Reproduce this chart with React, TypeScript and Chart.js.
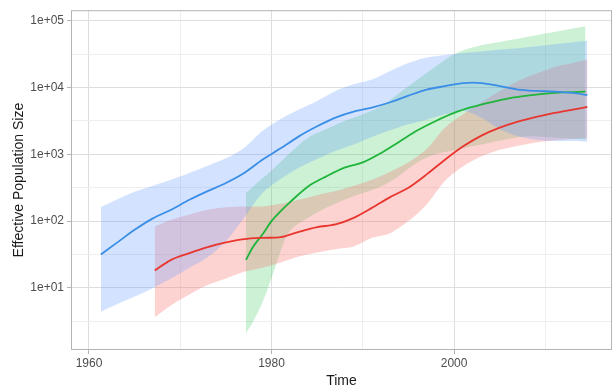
import React, { useEffect, useRef } from 'react';
import { Chart, registerables } from 'chart.js';

Chart.register(...registerables);

// ---- data ----
const blueYears = [1961.3, 1963, 1965, 1967, 1969, 1971, 1973, 1975, 1977, 1979, 1981, 1983, 1985, 1987, 1989, 1991, 1993, 1995, 1997, 1999, 2001, 2003, 2005, 2007, 2009, 2011, 2013, 2014.6];
const blueMedian = [31.6, 46.8, 74.1, 110, 148, 209, 282, 372, 525, 832, 1230, 1860, 2630, 3550, 4370, 5010, 6030, 7590, 9330, 10500, 11700, 11700, 10500, 9330, 8910, 8710, 8320, 7760];
const blueUpper = [162, 209, 275, 339, 417, 525, 676, 871, 1260, 2240, 3390, 4680, 6310, 8910, 11200, 13200, 17800, 23400, 28200, 30900, 33100, 34700, 37200, 38900, 41700, 44700, 47900, 50100];
const blueLower = [4.37, 5.62, 7.41, 10.0, 13.8, 20.0, 28.8, 50.1, 112, 263, 427, 631, 851, 1120, 1410, 1820, 2290, 2820, 3310, 3980, 4470, 3550, 2400, 1860, 1660, 1580, 1580, 1550];

const redYears = [1967.2, 1969, 1971, 1973, 1975, 1977, 1979, 1981, 1983, 1985, 1987, 1989, 1991, 1993, 1995, 1997, 1999, 2001, 2003, 2005, 2007, 2009, 2011, 2013, 2014.6];
const redMedian = [18.2, 26.3, 33.1, 40.7, 47.9, 53.7, 56.2, 57.5, 69.2, 81.3, 89.1, 112, 158, 229, 316, 501, 832, 1320, 1910, 2510, 3090, 3630, 4170, 4680, 5130];
const redUpper = [83.2, 105, 126, 148, 162, 166, 166, 182, 209, 245, 282, 339, 417, 550, 759, 1200, 2510, 3980, 6030, 8910, 12600, 16200, 20400, 23400, 26300];
const redLower = [3.63, 5.5, 7.94, 11.0, 13.8, 17.4, 20.0, 24.0, 29.5, 33.9, 38.0, 41.7, 56.2, 66.1, 100, 178, 398, 661, 933, 1170, 1350, 1510, 1620, 1700, 1740];

const greenYears = [1977.2, 1978, 1979, 1980, 1981, 1982, 1984, 1986, 1988, 1990, 1992, 1994, 1996, 1998, 2000, 2002, 2004, 2006, 2008, 2010, 2012, 2014.4];
const greenMedian = [26.3, 41.7, 63.1, 100, 141, 191, 331, 468, 631, 759, 1050, 1550, 2290, 3160, 4170, 5130, 6030, 6920, 7590, 8130, 8510, 8710];
const greenUpper = [263, 331, 437, 575, 776, 1050, 1780, 2400, 3160, 3980, 5250, 8320, 13200, 20900, 31600, 39800, 45700, 51300, 57500, 64600, 72400, 83200];
const greenLower = [2.09, 3.16, 6.03, 14.1, 35.5, 70.8, 112, 158, 209, 263, 331, 479, 759, 1000, 1150, 1320, 1510, 1700, 1860, 1820, 1740, 1660];

const xMajorTicks = [1960, 1980, 2000];
const xMinorTicks = [1970, 1990, 2010];
const yMajorTicks = [10, 100, 1000, 10000, 100000];
const yMajorLabels = ['1e+01', '1e+02', '1e+03', '1e+04', '1e+05'];
const yMinorTicks = [3.162, 31.62, 316.2, 3162, 31623];

const xTitle = 'Time';
const yTitle = 'Effective Population Size';

const FONT = "'Liberation Sans', Arial, Helvetica, sans-serif";

function pts(xs: number[], ys: number[]) {
  return xs.map((x, i) => ({ x, y: ys[i] }));
}

export default function App() {
  const ref = useRef<HTMLCanvasElement | null>(null);

  useEffect(() => {
    document.body.style.margin = '0';
    const canvas = ref.current;
    if (!canvas) return;

    const band = (data: any[], color: string, fill: any) => ({
      data,
      borderWidth: 0,
      borderColor: 'transparent',
      backgroundColor: color,
      pointRadius: 0,
      fill,
      tension: 0.3,
      order: 2,
    });
    const line = (data: any[], color: string) => ({
      data,
      borderWidth: 1.8,
      borderColor: color,
      backgroundColor: color,
      pointRadius: 0,
      fill: false,
      tension: 0.3,
      order: 0,
    });

    const panelPlugin = {
      id: 'panelDecor',
      beforeDatasetsDraw(chart: any) {
        const { ctx, chartArea: a } = chart;
        ctx.save();
        ctx.fillStyle = 'transparent';
        ctx.restore();
      },
      afterDraw(chart: any) {
        const { ctx, chartArea: a } = chart;
        ctx.save();
        ctx.strokeStyle = '#b3b3b3';
        ctx.lineWidth = 1;
        ctx.strokeRect(a.left + 0.5, a.top + 0.5, a.right - a.left - 1, a.bottom - a.top - 1);
        ctx.fillStyle = '#1a1a1a';
        ctx.font = `14px ${FONT}`;
        ctx.textAlign = 'center';
        ctx.textBaseline = 'middle';
        ctx.fillText(xTitle, (a.left + a.right) / 2, 381);
        ctx.translate(19, (a.top + a.bottom) / 2);
        ctx.rotate(-Math.PI / 2);
        ctx.fillText(yTitle, 0, 0);
        ctx.restore();
      },
    };

    const chart = new Chart(canvas, {
      type: 'line',
      data: {
        datasets: [
          band(pts(blueYears, blueLower), 'transparent', false),
          band(pts(blueYears, blueUpper), 'rgba(97,156,255,0.28)', '-1'),
          band(pts(redYears, redLower), 'transparent', false),
          band(pts(redYears, redUpper), 'rgba(248,110,105,0.30)', '-1'),
          band(pts(greenYears, greenLower), 'transparent', false),
          band(pts(greenYears, greenUpper), 'rgba(40,195,80,0.24)', '-1'),
          line(pts(blueYears, blueMedian), '#3a8ee6'),
          line(pts(redYears, redMedian), '#e8362f'),
          line(pts(greenYears, greenMedian), '#1fb43a'),
        ] as any,
      },
      options: {
        animation: false,
        responsive: true,
        maintainAspectRatio: false,
        layout: { padding: { top: 7, right: 0, left: 0, bottom: 0 } },
        plugins: {
          legend: { display: false },
          tooltip: { enabled: false },
          filler: { drawTime: 'beforeDatasetsDraw' } as any,
        },
        scales: {
          x: {
            type: 'linear',
            min: 1958.03,
            max: 2017.3,
            afterBuildTicks: (s: any) => {
              s.ticks = [...xMajorTicks, ...xMinorTicks].sort((p, q) => p - q).map((v) => ({ value: v }));
            },
            afterFit: (s: any) => {
              s.height = 39;
            },
            ticks: {
              autoSkip: false,
              maxRotation: 0,
              padding: 2,
              color: '#4d4d4d',
              font: { family: FONT, size: 12 },
              callback: (v: any) => (xMajorTicks.includes(Number(v)) ? String(v) : ''),
            },
            grid: {
              color: (c: any) => (xMajorTicks.includes(c.tick?.value) ? '#dedede' : '#eeeeee'),
              lineWidth: 1,
              tickLength: 4,
              tickColor: (c: any) => (xMajorTicks.includes(c.tick?.value) ? '#b3b3b3' : 'rgba(0,0,0,0)'),
            } as any,
            border: { display: false },
          },
          y: {
            type: 'logarithmic',
            min: 1.174,
            max: 144300,
            afterBuildTicks: (s: any) => {
              s.ticks = [...yMajorTicks, ...yMinorTicks].sort((p, q) => p - q).map((v) => ({ value: v }));
            },
            afterFit: (s: any) => {
              s.width = 71;
            },
            ticks: {
              autoSkip: false,
              padding: 3,
              color: '#4d4d4d',
              font: { family: FONT, size: 12 },
              callback: (v: any) => {
                const i = yMajorTicks.indexOf(Number(v));
                return i >= 0 ? yMajorLabels[i] : '';
              },
            },
            grid: {
              color: (c: any) => (yMajorTicks.includes(c.tick?.value) ? '#dedede' : '#eeeeee'),
              lineWidth: 1,
              tickLength: 4,
              tickColor: (c: any) => (yMajorTicks.includes(c.tick?.value) ? '#b3b3b3' : 'rgba(0,0,0,0)'),
            } as any,
            border: { display: false },
          },
        },
      } as any,
      plugins: [panelPlugin],
    });

    return () => chart.destroy();
  }, []);

  return (
    <div style={{ width: 612, height: 389, position: 'relative', background: '#ffffff' }}>
      <canvas ref={ref} />
    </div>
  );
}
